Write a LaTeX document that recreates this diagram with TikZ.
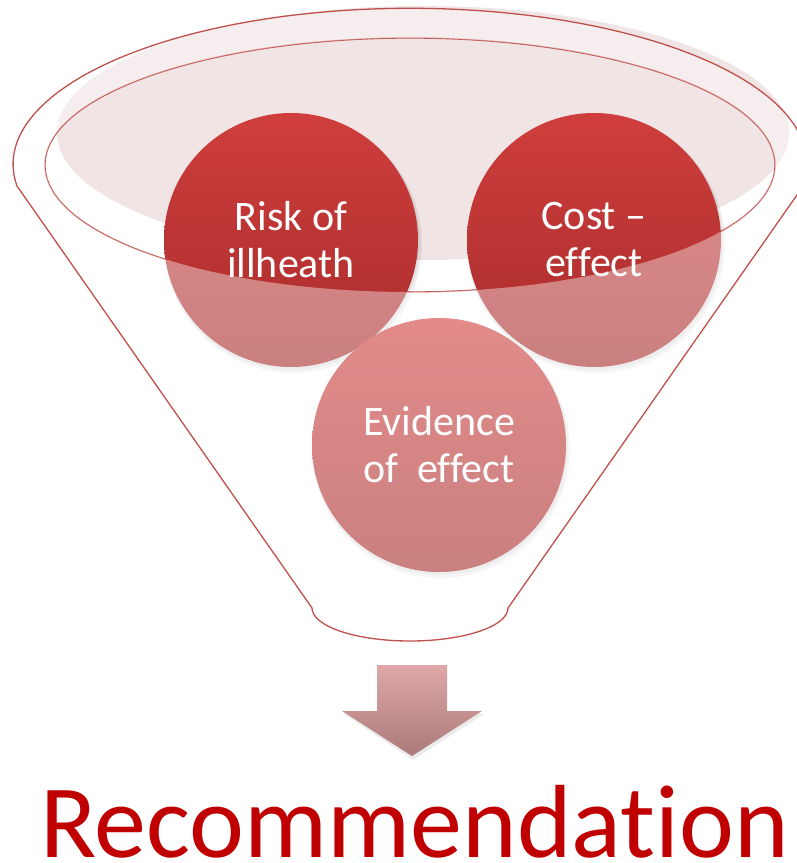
\documentclass[tikz,border=0pt]{standalone}
\usepackage{fontspec}
\setmainfont{Carlito}[Ligatures={NoCommon,NoRequired,NoContextual}]
\definecolor{rim}{RGB}{192,80,77}
\definecolor{topfill}{RGB}{241,228,228}
\definecolor{redtop}{RGB}{207,62,60}
\definecolor{redbot}{RGB}{168,44,44}
\definecolor{arrtop}{RGB}{222,168,168}
\definecolor{arrbot}{RGB}{172,122,122}
\definecolor{rec}{RGB}{192,0,0}
\tikzset{
  rimline/.style={draw=rim, line width=1.3pt},
  ball/.style={circle, minimum size=254pt, inner sep=0pt, text=white,
    top color=redtop, bottom color=redbot, align=center,
    font=\fontsize{42}{47}\selectfont},
  ballshadow/.style={fill=black, opacity=0.06},
}
\begin{document}
\begin{tikzpicture}[x=1pt,y=-1pt]
\useasboundingbox (0,0) rectangle (796,863);
% top surface fill
\fill[topfill] (423,133) ellipse [x radius=366, y radius=127];
% inner rim outline
\draw[rimline] (410,165) ellipse [x radius=365, y radius=127];
% shadows of balls
\foreach \c in {(291,240),(594,240),(439,445)}{
  \fill[ballshadow] \c ++(2,4) circle (129);
  \fill[ballshadow] \c ++(1,2) circle (128);
}
% balls
\node[ball] (risk) at (291,240) {Risk of\\illheath};
\node[ball] (cost) at (594,240) {Cost --\\effect};
\node[ball] (evid) at (439,445) {Evidence\\of~~effect};
% translucent funnel body
\fill[white, opacity=0.4, even odd rule]
  (312,608) -- (17,186) arc[start angle=172, end angle=368, x radius=397, y radius=156]
  -- (508,608) arc[start angle=0, end angle=180, x radius=98, y radius=33] -- cycle
  (410,165) ellipse [x radius=365, y radius=127];
% outer outline
\draw[rimline, line join=round]
  (312,608) -- (17,186) arc[start angle=172, end angle=368, x radius=397, y radius=156]
  -- (508,608) arc[start angle=0, end angle=180, x radius=98, y radius=33] -- cycle;
% arrow shadow
\fill[black, opacity=0.08] (344,714) -- (484,714) -- (413,760) -- cycle;
% arrow
\shade[top color=arrtop, bottom color=arrbot]
  (377,665) -- (447,665) -- (447,711) -- (482,711) -- (412,756)
  -- (342,711) -- (377,711) -- cycle;
% result
\node[text=rec, anchor=base west, inner sep=0pt, font=\fontsize{104}{110}\selectfont]
  (recnode) at (40,857) {Recommendat\hbox{i}on};
\end{tikzpicture}
\end{document}
